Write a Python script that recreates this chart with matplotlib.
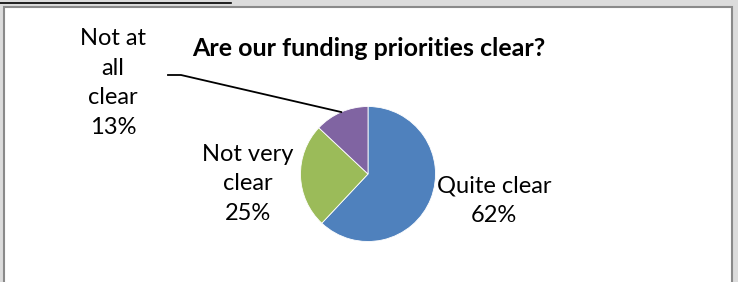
import numpy as np
import matplotlib
matplotlib.use("Agg")
import matplotlib.pyplot as plt
from matplotlib.patches import Rectangle

# data
labels = ["Quite clear", "Not very\nclear", "Not at\nall\nclear"]
shares = [62, 25, 13]
colors = ["#4F81BD", "#9BBB59", "#8064A2"]
title = "Are our funding priorities clear?"

W, H = 738, 282
plt.rcParams["font.family"] = ["Lato", "DejaVu Sans"]

fig = plt.figure(figsize=(W / 100, H / 100), dpi=100)
fig.patch.set_facecolor("#dcdcdc")


def fx(px):
    return px / W


def fy(py):
    return 1 - py / H


# chart frame
fig.patches.append(Rectangle((fx(4), fy(290)), fx(732) - fx(4), fy(7) - fy(290),
                             transform=fig.transFigure, facecolor="white",
                             edgecolor="#8a8a8a", linewidth=1.5, zorder=-5))
# underline of the cut-off heading above
fig.lines.append(plt.Line2D([0, fx(231)], [fy(3), fy(3)], transform=fig.transFigure,
                            color="black", linewidth=1.2))

# pie axes: centre (368,174), radius 67.5 px
cx, cy, r = 368, 174, 67.5
ax = fig.add_axes([fx(cx - r), fy(cy + r), 2 * r / W, 2 * r / H])
ax.set_zorder(2)
ax.pie(shares, colors=colors, startangle=90, counterclock=False, radius=1,
       wedgeprops=dict(edgecolor="white", linewidth=0.6))
ax.set_xlim(-1, 1)
ax.set_ylim(-1, 1)
ax.axis("off")

fig.text(fx(369), fy(49), title, ha="center", va="center",
         fontsize=18, fontweight="bold")

pos = [(494, 201), (248, 184), (113, 83)]
for lab, s, (px, py) in zip(labels, shares, pos):
    fig.text(fx(px), fy(py), f"{lab}\n{s}%", ha="center", va="center",
             fontsize=17, linespacing=1.5)

# leader line for the smallest slice, to the middle of its edge
mid = np.deg2rad(90 - 360 * (sum(shares[:2]) + shares[2] / 2) / 100)
ex, ey = cx + r * np.cos(mid), cy - r * np.sin(mid)
fig.lines.append(plt.Line2D([fx(168), fx(181), fx(ex)], [fy(75), fy(75), fy(ey)],
                            transform=fig.transFigure, color="black", linewidth=1.3))

fig.savefig("out.png", dpi=100, facecolor=fig.get_facecolor())
